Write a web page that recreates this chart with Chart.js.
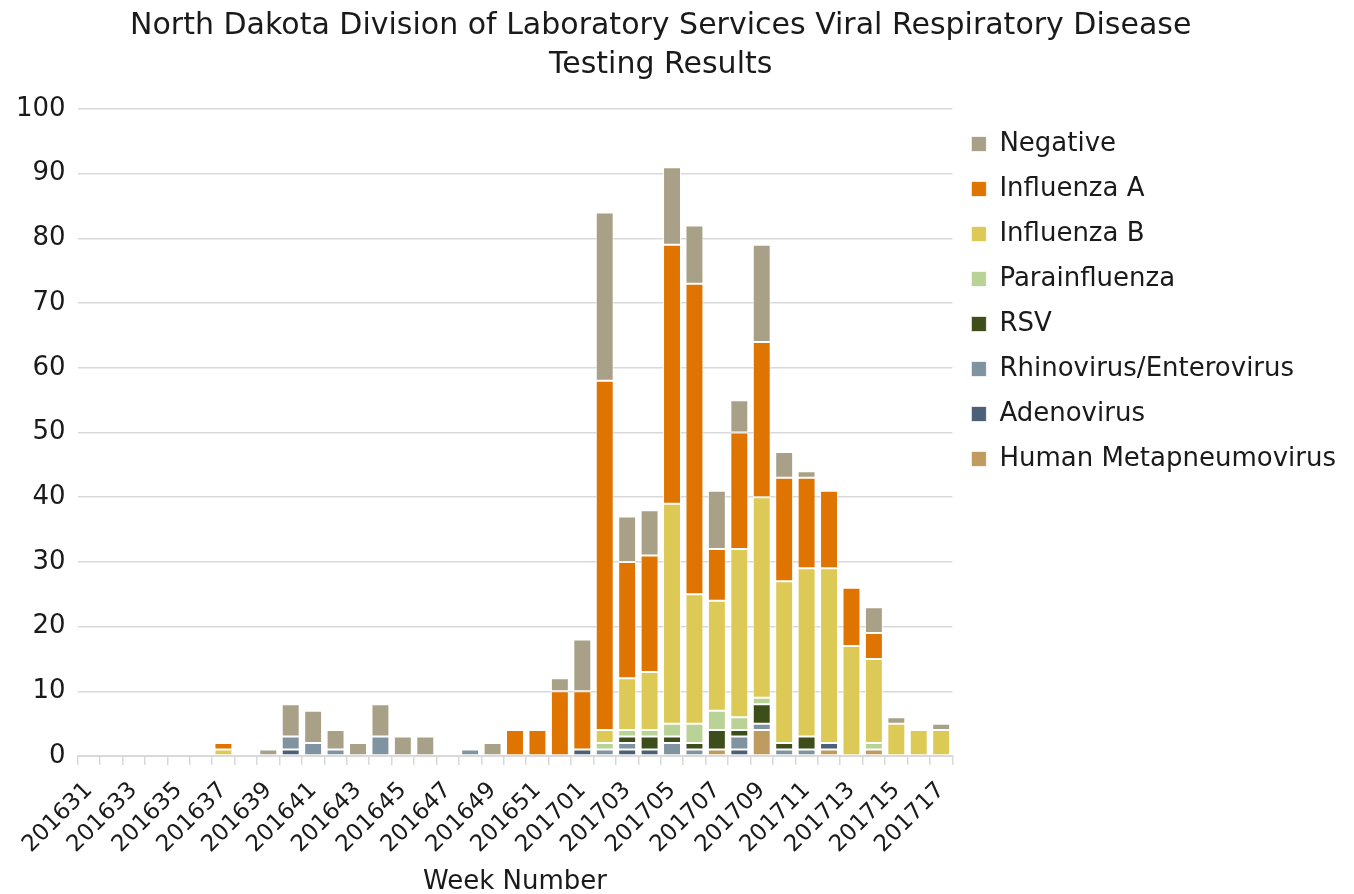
<!DOCTYPE html>
<html>
<head>
<meta charset="utf-8">
<script src="https://cdn.jsdelivr.net/npm/chart.js@4/dist/chart.umd.min.js"></script>
<style>
html,body{margin:0;padding:0;background:#fff;}
#wrap{width:1354px;height:894px;}
</style>
</head>
<body>
<div id="wrap"><canvas id="c" width="1354" height="894"></canvas></div>
<script>
const weeks = ["201631","201632","201633","201634","201635","201636","201637","201638","201639","201640",
  "201641","201642","201643","201644","201645","201646","201647","201648","201649","201650",
  "201651","201652","201701","201702","201703","201704","201705","201706","201707","201708",
  "201709","201710","201711","201712","201713","201714","201715","201716","201717"];

const humanMetapneumovirus = [0,0,0,0,0,0,0,0,0,0, 0,0,0,0,0,0,0,0,0,0, 0,0,0,0,0,0,0,0,1,0, 4,0,0,1,0,1,0,0,0];
const adenovirus           = [0,0,0,0,0,0,0,0,0,1, 0,0,0,0,0,0,0,0,0,0, 0,0,1,0,1,1,0,0,0,1, 0,0,0,1,0,0,0,0,0];
const rhinoEnterovirus     = [0,0,0,0,0,0,0,0,0,2, 2,1,0,3,0,0,0,1,0,0, 0,0,0,1,1,0,2,1,0,2, 1,1,1,0,0,0,0,0,0];
const rsv                  = [0,0,0,0,0,0,0,0,0,0, 0,0,0,0,0,0,0,0,0,0, 0,0,0,0,1,2,1,1,3,1, 3,1,2,0,0,0,0,0,0];
const parainfluenza        = [0,0,0,0,0,0,0,0,0,0, 0,0,0,0,0,0,0,0,0,0, 0,0,0,1,1,1,2,3,3,2, 1,0,0,0,0,1,0,0,0];
const influenzaB           = [0,0,0,0,0,0,1,0,0,0, 0,0,0,0,0,0,0,0,0,0, 0,0,0,2,8,9,34,20,17,26, 31,25,26,27,17,13,5,4,4];
const influenzaA           = [0,0,0,0,0,0,1,0,0,0, 0,0,0,0,0,0,0,0,0,4, 4,10,9,54,18,18,40,48,8,18, 24,16,14,12,9,4,0,0,0];
const negative             = [0,0,0,0,0,0,0,0,1,5, 5,3,2,5,3,3,0,0,2,0, 0,2,8,26,7,7,12,9,9,5, 15,4,1,0,0,4,1,0,1];

const yTicks = [0,10,20,30,40,50,60,70,80,90,100];

const FONT = "'DejaVu Sans', sans-serif";
const TXT = '#1a1a1a';

function ds(label, data, color){
  return {
    label: label,
    data: data.map(v => v === 0 ? null : v),
    backgroundColor: color,
    borderColor: 'rgba(255,255,255,0.7)',
    borderWidth: 1,
    borderSkipped: false,
    barPercentage: 0.8,
    categoryPercentage: 1.0
  };
}

new Chart(document.getElementById('c'), {
  type: 'bar',
  data: {
    labels: weeks,
    datasets: [
      ds('Human Metapneumovirus', humanMetapneumovirus, '#BF9B60'),
      ds('Adenovirus', adenovirus, '#4C6177'),
      ds('Rhinovirus/Enterovirus', rhinoEnterovirus, '#8093A0'),
      ds('RSV', rsv, '#3D4E1A'),
      ds('Parainfluenza', parainfluenza, '#B9D296'),
      ds('Influenza B', influenzaB, '#DDC955'),
      ds('Influenza A', influenzaA, '#E07400'),
      ds('Negative', negative, '#A9A187')
    ]
  },
  options: {
    responsive: false,
    animation: false,
    layout: { padding: { left: 4, right: 8, top: 7, bottom: 0 } },
    plugins: {
      title: {
        display: true,
        text: ['North Dakota Division of Laboratory Services Viral Respiratory Disease\u00A0\u00A0\u00A0', 'Testing Results\u00A0\u00A0\u00A0'],
        color: TXT,
        font: { family: FONT, size: 30, weight: 'normal', lineHeight: 1.3 },
        padding: { top: 0, bottom: 24 }
      },
      legend: {
        position: 'right',
        align: 'start',
        reverse: true,
        maxWidth: 420,
        title: { display: true, text: ' ', padding: { top: 83, bottom: 10 }, font: { size: 10 } },
        labels: {
          color: TXT,
          font: { family: FONT, size: 26 },
          boxWidth: 15,
          boxHeight: 15,
          padding: 19
        }
      },
      tooltip: { enabled: false }
    },
    scales: {
      x: {
        stacked: true,
        offset: true,
        grid: { display: true, drawOnChartArea: false, drawTicks: true, tickLength: 9, color: '#d9d9d9', lineWidth: 1.5, offset: true },
        border: { display: true, color: '#d9d9d9', width: 2 },
        ticks: {
          autoSkip: false,
          maxRotation: 45,
          minRotation: 45,
          color: TXT,
          font: { family: FONT, size: 23 },
          padding: 12,
          callback: function(v, i){ return i % 2 === 0 ? weeks[i] : ''; }
        },
        title: {
          display: true,
          text: 'Week Number',
          color: TXT,
          font: { family: FONT, size: 26, lineHeight: 0.9 },
          padding: { top: 0, bottom: 0 }
        }
      },
      y: {
        stacked: true,
        min: 0,
        max: 100,
        afterBuildTicks: function(axis){ axis.ticks = yTicks.map(v => ({ value: v })); },
        grid: { color: '#d9d9d9', lineWidth: 1.5, drawTicks: false },
        border: { display: false },
        ticks: {
          color: TXT,
          font: { family: FONT, size: 26 },
          padding: 12
        }
      }
    }
  }
});
</script>
</body>
</html>
